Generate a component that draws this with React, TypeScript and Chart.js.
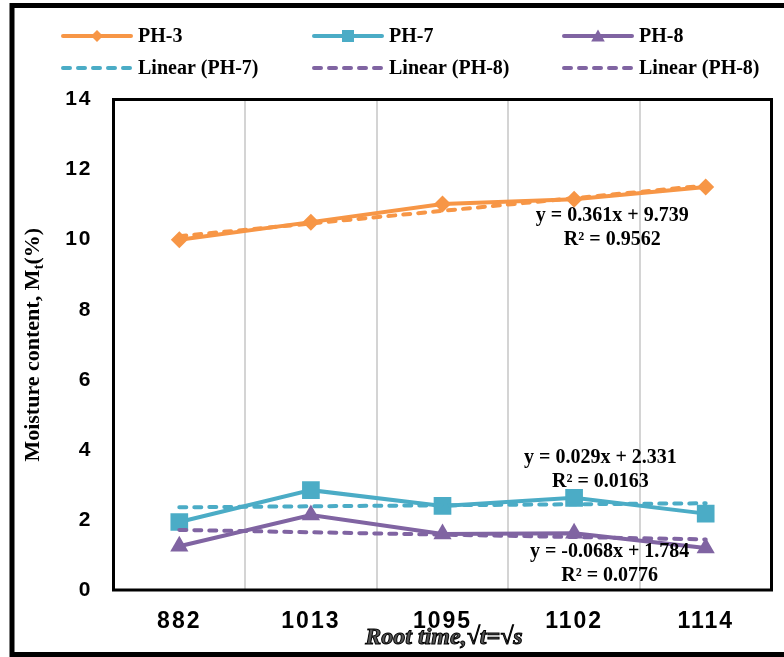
import { useEffect, useRef } from 'react';
import { Chart, registerables } from 'chart.js';

Chart.register(...registerables);

// ---- data ----
const categories = ['882', '1013', '1095', '1102', '1114'];
const ph3 = [10.0, 10.5, 11.02, 11.15, 11.5];
const ph7 = [1.94, 2.85, 2.4, 2.63, 2.18];
const ph8 = [1.25, 2.14, 1.6, 1.62, 1.2];
const linearPh3 = [10.1, 10.461, 10.822, 11.183, 11.544];
const linearPh7 = [2.36, 2.389, 2.418, 2.447, 2.476];
const linearPh8 = [1.716, 1.648, 1.58, 1.512, 1.444];
const yMin = 0;
const yMax = 14;
const yStep = 2;
const legendLabels = ['PH-3', 'PH-7', 'PH-8', 'Linear (PH-7)', 'Linear (PH-8)', 'Linear (PH-8)'];
const eqPh3 = ['y = 0.361x + 9.739', 'R² = 0.9562'];
const eqPh7 = ['y = 0.029x + 2.331', 'R² = 0.0163'];
const eqPh8 = ['y = -0.068x + 1.784', 'R² = 0.0776'];
const yTitle = ['Moisture content, M', 't', '(%)'];
const xTitle = 'Root time,√t=√s';

const ORANGE = '#F79646';
const BLUE = '#4BACC6';
const PURPLE = '#8064A2';
const SERIF = '"Liberation Serif", "Times New Roman", serif';
const SANS = '"Liberation Sans", Arial, sans-serif';

type Shape = 'diamond' | 'square' | 'triangle' | null;

function drawShape(ctx: CanvasRenderingContext2D, shape: Shape, x: number, y: number, s: number, color: string) {
  if (!shape) return;
  ctx.fillStyle = color;
  ctx.beginPath();
  if (shape === 'diamond') {
    ctx.moveTo(x, y - s);
    ctx.lineTo(x + s, y);
    ctx.lineTo(x, y + s);
    ctx.lineTo(x - s, y);
  } else if (shape === 'square') {
    ctx.rect(x - s, y - s, 2 * s, 2 * s);
  } else {
    ctx.moveTo(x, y - s);
    ctx.lineTo(x + s * 1.05, y + s * 0.85);
    ctx.lineTo(x - s * 1.05, y + s * 0.85);
  }
  ctx.closePath();
  ctx.fill();
}

const legendEntries: { label: string; color: string; dashed: boolean; shape: Shape; size: number }[] = [
  { label: legendLabels[0], color: ORANGE, dashed: false, shape: 'diamond', size: 6 },
  { label: legendLabels[1], color: BLUE, dashed: false, shape: 'square', size: 6 },
  { label: legendLabels[2], color: PURPLE, dashed: false, shape: 'triangle', size: 6.5 },
  { label: legendLabels[3], color: BLUE, dashed: true, shape: null, size: 0 },
  { label: legendLabels[4], color: PURPLE, dashed: true, shape: null, size: 0 },
  { label: legendLabels[5], color: PURPLE, dashed: true, shape: null, size: 0 },
];

const decorPlugin = {
  id: 'decor',
  beforeDraw(chart: any) {
    const ctx: CanvasRenderingContext2D = chart.ctx;
    ctx.save();
    ctx.fillStyle = '#fff';
    ctx.fillRect(0, 0, chart.width, chart.height);
    ctx.strokeStyle = '#000';
    ctx.lineWidth = 5;
    ctx.beginPath();
    ctx.moveTo(chart.width + 10, 5.5);
    ctx.lineTo(12, 5.5);
    ctx.lineTo(12, chart.height - 2.5);
    ctx.lineTo(chart.width + 10, chart.height - 2.5);
    ctx.stroke();
    ctx.restore();
    // wider digit spacing for the axis tick labels
    (ctx as any).letterSpacing = '2px';
  },
  beforeDatasetsDraw(chart: any) {
    const ctx: CanvasRenderingContext2D = chart.ctx;
    (ctx as any).letterSpacing = '0px';
    const a = chart.chartArea;
    ctx.save();
    ctx.strokeStyle = '#000';
    ctx.lineWidth = 3;
    ctx.strokeRect(a.left, a.top, a.right - a.left, a.bottom - a.top);
    ctx.restore();
  },
  afterDraw(chart: any) {
    const ctx: CanvasRenderingContext2D = chart.ctx;
    (ctx as any).letterSpacing = '0px';
    const a = chart.chartArea;
    const xs = chart.scales.x;
    const ys = chart.scales.y;
    ctx.save();

    // legend
    const colX = [63, 314, 564];
    const rowY = [36, 68];
    legendEntries.forEach((e, i) => {
      const cx = colX[i % 3];
      const cy = rowY[Math.floor(i / 3)];
      ctx.strokeStyle = e.color;
      ctx.lineWidth = 4;
      ctx.lineCap = 'round';
      ctx.setLineDash(e.dashed ? [7, 8] : []);
      ctx.beginPath();
      ctx.moveTo(cx, cy);
      ctx.lineTo(cx + 68, cy);
      ctx.stroke();
      ctx.setLineDash([]);
      drawShape(ctx, e.shape, cx + 34, cy, e.size, e.color);
      ctx.fillStyle = '#000';
      ctx.font = `bold 20px ${SERIF}`;
      ctx.textAlign = 'left';
      ctx.textBaseline = 'middle';
      ctx.fillText(e.label, cx + 75, cy + 1);
    });

    // equations
    const eqs: [string[], number, number][] = [
      [eqPh3, 3.29, 10.67],
      [eqPh7, 3.2, 3.77],
      [eqPh8, 3.27, 1.08],
    ];
    ctx.font = `bold 20px ${SERIF}`;
    ctx.textAlign = 'center';
    ctx.textBaseline = 'middle';
    ctx.fillStyle = '#000';
    eqs.forEach(([lines, xi, yv]) => {
      const px = xs.getPixelForValue(xi);
      const py = ys.getPixelForValue(yv);
      lines.forEach((t, k) => ctx.fillText(t, px, py + k * 24));
    });

    // y title
    ctx.save();
    ctx.translate(33, (a.top + a.bottom) / 2);
    ctx.rotate(-Math.PI / 2);
    const big = `bold 22px ${SERIF}`;
    const small = `bold 15px ${SERIF}`;
    ctx.font = big;
    const w0 = ctx.measureText(yTitle[0]).width;
    const w2 = ctx.measureText(yTitle[2]).width;
    ctx.font = small;
    const w1 = ctx.measureText(yTitle[1]).width;
    let sx = -(w0 + w1 + w2) / 2;
    ctx.textAlign = 'left';
    ctx.textBaseline = 'middle';
    ctx.fillStyle = '#000';
    ctx.font = big;
    ctx.fillText(yTitle[0], sx, 0);
    sx += w0;
    ctx.font = small;
    ctx.fillText(yTitle[1], sx, 6);
    sx += w1;
    ctx.font = big;
    ctx.fillText(yTitle[2], sx, 0);
    ctx.restore();

    // x title
    ctx.font = `italic bold 24px ${SERIF}`;
    ctx.textAlign = 'center';
    ctx.textBaseline = 'middle';
    ctx.fillStyle = '#555';
    ctx.strokeStyle = '#000';
    ctx.lineWidth = 1;
    ctx.fillText(xTitle, 444, 638);
    ctx.strokeText(xTitle, 444, 638);

    ctx.restore();
  },
};

export default function App() {
  const ref = useRef<HTMLCanvasElement | null>(null);
  useEffect(() => {
    if (!ref.current) return;
    const solid = (label: string, data: number[], color: string, style: string, radius: number) => ({
      label,
      data,
      borderColor: color,
      backgroundColor: color,
      borderWidth: 4,
      pointStyle: style,
      pointRadius: radius,
      pointBackgroundColor: color,
      pointBorderWidth: 0,
      tension: 0,
      order: 1,
    });
    const dashed = (label: string, data: number[], color: string) => ({
      label,
      data,
      borderColor: color,
      backgroundColor: color,
      borderWidth: 4,
      borderDash: [7, 8],
      borderCapStyle: 'round',
      pointRadius: 0,
      tension: 0,
      order: 0,
    });
    const chart = new Chart(ref.current, {
      type: 'line',
      data: {
        labels: categories,
        datasets: [
          solid('PH-3', ph3, ORANGE, 'rectRot', 8.5),
          solid('PH-7', ph7, BLUE, 'rect', 12.5),
          solid('PH-8', ph8, PURPLE, 'triangle', 10.5),
          dashed('Linear (PH-3)', linearPh3, ORANGE),
          dashed('Linear (PH-7)', linearPh7, BLUE),
          dashed('Linear (PH-8)', linearPh8, PURPLE),
        ] as any,
      },
      options: {
        responsive: false,
        animation: false,
        layout: { padding: { left: 0, top: 99.5, right: 11.5, bottom: 0 } },
        plugins: { legend: { display: false }, tooltip: { enabled: false }, title: { display: false } },
        scales: {
          x: {
            type: 'category',
            offset: true,
            grid: { display: true, offset: true, color: '#d4d4d4', lineWidth: 2, drawTicks: false },
            border: { display: false },
            ticks: { color: '#000', font: { family: SANS, weight: 'bold', size: 23 }, padding: 18, maxRotation: 0 },
            afterFit: (s: any) => { s.height = 67; },
          },
          y: {
            min: yMin,
            max: yMax,
            grid: { display: false, drawTicks: false },
            border: { display: false },
            ticks: { stepSize: yStep, color: '#000', font: { family: SANS, weight: 'bold', size: 21 }, padding: 21 },
            afterFit: (s: any) => { s.width = 113.5; },
          },
        },
      } as any,
      plugins: [decorPlugin],
    });
    return () => chart.destroy();
  }, []);
  return (
    <div style={{ position: 'absolute', left: 0, top: 0, width: 784, height: 657 }}>
      <canvas ref={ref} width={784} height={657} style={{ display: 'block' }} />
    </div>
  );
}
